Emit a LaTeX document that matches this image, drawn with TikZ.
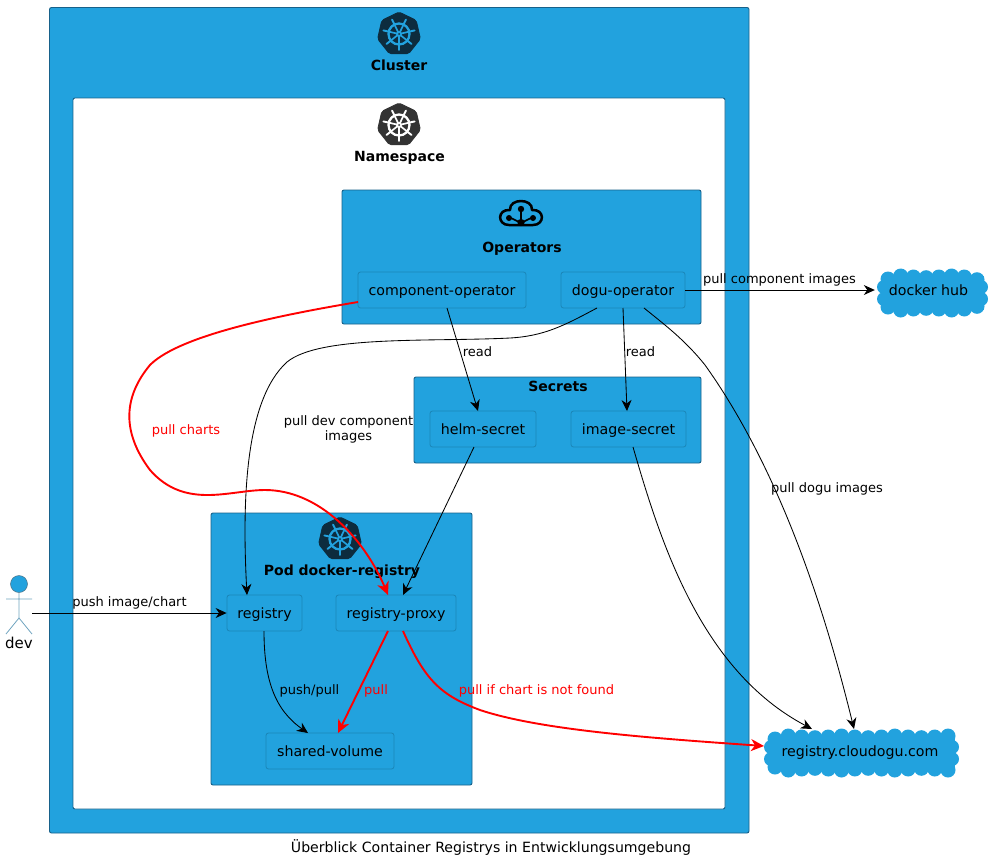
\documentclass[tikz,border=0pt]{standalone}
\usepackage{fontspec}
\setmainfont{DejaVu Sans}
\usetikzlibrary{arrows.meta,shapes.geometric}
\definecolor{kblue}{HTML}{22A2DE}
\definecolor{kedge}{HTML}{17618A}
\definecolor{kinner}{HTML}{1B86B8}
\definecolor{kdark}{HTML}{0D2C3E}
\definecolor{kgrey}{HTML}{333333}
\definecolor{kred}{HTML}{FF0000}
\definecolor{kact}{HTML}{6FA3BF}
\tikzset{
  x=1pt,y=-1pt,
  group/.style={draw=kedge,fill=kblue,line width=.9pt,rounded corners=2pt},
  white group/.style={group,fill=white},
  inbox/.style={draw=kinner,fill=kblue,line width=.8pt,rounded corners=2.5pt,minimum height=36,inner sep=0pt,text height=10pt,text depth=0pt,font=\fontsize{14.2}{16}\selectfont},
  title/.style={font=\bfseries\fontsize{14}{16}\selectfont,inner sep=0pt,anchor=base},
  lab/.style={font=\fontsize{13}{15}\selectfont,inner sep=0pt,align=center,anchor=base},
  redlab/.style={lab,text=kred},
  arr/.style={-{Stealth[length=11,width=10,inset=3.5]},black,line width=.85pt},
  redarr/.style={-{Stealth[length=13,width=12,inset=4]},kred,line width=1.9pt},
  puff/.style={inner sep=0pt,text height=10pt,text depth=0pt,font=\fontsize{14.2}{16}\selectfont},
}
\newcommand{\kwheel}[4]{% x y hept wheel
  \begin{scope}[shift={(#1,#2)}]
    \node[regular polygon,regular polygon sides=7,minimum size=44,fill=#3,draw=#3,line width=.8pt,rounded corners=2pt,inner sep=0pt] at (0,0) {};
    \draw[#4,line width=2.3pt] (0,0) circle[radius=10.5];
    \fill[#4] (0,0) circle[radius=3];
    \fill[#3] (0,0) circle[radius=1];
    \foreach \a in {90,141.4,192.9,244.3,295.7,347.1,398.6}{
      \draw[#4,line width=1.7pt] (\a:2) -- (\a:10);
      \draw[#4,line width=1.9pt,line cap=round] (\a:11) -- (\a:16);
    }
  \end{scope}}
% puffy cloud: xmin ymin xmax ymax
\newcommand{\puffcloud}[4]{%
  \fill[kblue] (#1+4,#2+8) rectangle (#3-4,#4-8);
  \pgfmathtruncatemacro{\nx}{round((#3-#1-22)/13)}
  \pgfmathsetmacro{\dx}{(#3-#1-22)/\nx}
  \foreach \i in {0,...,\nx}{
    \pgfmathsetmacro{\px}{#1+11+\i*\dx}
    \pgfmathsetmacro{\py}{mod(\i,4)==1?-1:(mod(\i,4)==3?0.7:0)+((\i==0||\i==\nx)?2:0)}
    \fill[kblue] (\px,#2+9+\py) circle[radius=7.5];
    \fill[kblue] (\px,#4-9-\py) circle[radius=7.5];
  }
  \pgfmathsetmacro{\my}{(#2+#4)/2}
  \fill[kblue] (#1+7,\my-6) circle[radius=7];
  \fill[kblue] (#1+7,\my+6) circle[radius=7];
  \fill[kblue] (#3-7,\my-6) circle[radius=7];
  \fill[kblue] (#3-7,\my+6) circle[radius=7];
}
\begin{document}
\begin{tikzpicture}
\useasboundingbox (0,0) rectangle (995,863);
% groups
\draw[group] (49.5,7.5) rectangle (749,833);
\draw[white group] (73,98) rectangle (725,809);
\draw[group] (342,190) rectangle (701,324);
\draw[group] (414,377) rectangle (701,463);
\draw[group] (211,513) rectangle (472,785);
% icons
\kwheel{399}{34}{kdark}{kblue}
\kwheel{399}{125}{kgrey}{white}
\kwheel{340}{539}{kdark}{kblue}
\begin{scope}[shift={(521,214)},black]
  \draw[line width=2.5pt,line join=round]
    (-12,11) .. controls (-24,11) and (-24,-5) .. (-11,-4)
    .. controls (-12,-16) and (12,-16) .. (11,-4)
    .. controls (24,-5) and (24,11) .. (12,11) -- cycle;
  \draw[line width=1.7pt] (0,-5) -- (0,8);
  \draw[line width=1.7pt] (-12,4) .. controls (-7,4) and (-5,8) .. (0,8)
                          .. controls (5,8) and (7,4) .. (12,4);
  \fill (0,8.5) circle[radius=3.6];
  \fill (-12,4) circle[radius=3];
  \fill (12,4) circle[radius=3];
  \fill (0,-5) circle[radius=3.2];
\end{scope}
% titles
\node[title] (tcluster) at (399,70) {Cluster};
\node[title] (tns) at (399.5,161) {Namespace};
\node[title] (tops) at (522,252) {Operators};
\node[title] (tsec) at (558,391) {Secrets};
\node[title] (tpod) at (342,575) {Pod docker-registry};
% inner nodes
\node[inbox,minimum width=168] (compop) at (442,290) {component-operator};
\node[inbox,minimum width=124] (doguop) at (623,290) {dogu-operator};
\node[inbox,minimum width=106] (helm) at (483,429) {helm-secret};
\node[inbox,minimum width=115] (image) at (628.5,429) {image-secret};
\node[inbox,minimum width=75] (registry) at (264.5,613) {registry};
\node[inbox,minimum width=120] (proxy) at (396,613) {registry-proxy};
\node[inbox,minimum width=128] (shared) at (330,751) {shared-volume};
% clouds
\puffcloud{877}{268}{988}{318}
\puffcloud{764}{728}{959}{778}
\node[puff,minimum width=107,minimum height=44] (hub) at (928.5,290) {docker hub};
\node[puff,minimum width=192,minimum height=44] (cloudogu) at (860,751) {registry.cloudogu.com};
% actor
\coordinate (dev) at (32,613);
\draw[kact,line width=.8pt] (19,593) -- (19,618) (6,599) -- (32,599) (6,634) -- (19,618) -- (32,634);
\draw[kact!70!black,fill=kblue,line width=.5pt] (19,584) circle[radius=8.5];
\node[font=\fontsize{15}{17}\selectfont,inner sep=0pt] (devlab) at (19,643) {dev};
% connector ends
\coordinate (cs) at (447,308);
\coordinate (cw) at (358,302);
\coordinate (ds1) at (597,308);
\coordinate (ds2) at (623,308);
\coordinate (ds3) at (644,308);
\coordinate (he) at (478,411);
\coordinate (hs) at (474,447);
\coordinate (ie) at (627,411);
\coordinate (is) at (633,447);
\coordinate (re) at (247,595);
\coordinate (rs) at (264,631);
\coordinate (pe1) at (388,595);
\coordinate (pe2) at (403,595);
\coordinate (ps1) at (388,631);
\coordinate (ps2) at (403,631);
\coordinate (se1) at (308,733);
\coordinate (se2) at (338,733);
\coordinate (ce1) at (812,729);
\coordinate (ce2) at (854,729);
\coordinate (ce3) at (764,746);
% connectors
\draw[arr] (cs) -- (he);
\draw[arr] (ds2) -- (ie);
\draw[arr] (doguop.east) -- (hub.west);
\draw[arr] (ds1) .. controls (565,325) and (545,336) .. (510,338)
   .. controls (430,342) and (320,335) .. (287,362)
   .. controls (245,400) and (242,500) .. (re);
\draw[arr] (ds3) .. controls (665,325) and (685,340) .. (705,365)
   .. controls (780,470) and (825,610) .. (ce2);
\draw[arr] (hs) -- (pe2);
\draw[arr] (is) .. controls (660,540) and (700,670) .. (ce1);
\draw[arr] (dev) -- (registry.west);
\draw[arr] (rs) .. controls (264,680) and (275,710) .. (se1);
\draw[redarr] (cw) .. controls (250,320) and (175,340) .. (150,365)
   .. controls (125,395) and (120,430) .. (150,470)
   .. controls (185,510) and (230,490) .. (265,490)
   .. controls (320,490) and (365,540) .. (pe1);
\draw[redarr] (ps1) -- (se2);
\draw[redarr] (ps2) .. controls (425,680) and (440,695) .. (480,710)
   .. controls (540,730) and (650,738) .. (ce3);
% labels
\node[lab] (l1) at (477.5,356.5) {read};
\node[lab] (l2) at (640.5,356.5) {read};
\node[lab] (l3) at (779.5,283.5) {pull component images};
\node[lab] (l4) at (827,492.5) {pull dogu images};
\node[lab,anchor=center] (l5) at (348.5,429.5) {pull dev component\\images};
\node[redlab] (l6) at (186,434) {pull charts};
\node[lab] (l7) at (129.5,606.5) {push image/chart};
\node[lab] (l8) at (309.5,694.5) {push/pull};
\node[redlab] (l9) at (376,694.5) {pull};
\node[redlab] (l10) at (536.5,694.5) {pull if chart is not found};
\node[font=\fontsize{14.1}{16}\selectfont,inner sep=0pt,anchor=base] (cap) at (491,852) {Überblick Container Registrys in Entwicklungsumgebung};
\end{tikzpicture}
\end{document}
